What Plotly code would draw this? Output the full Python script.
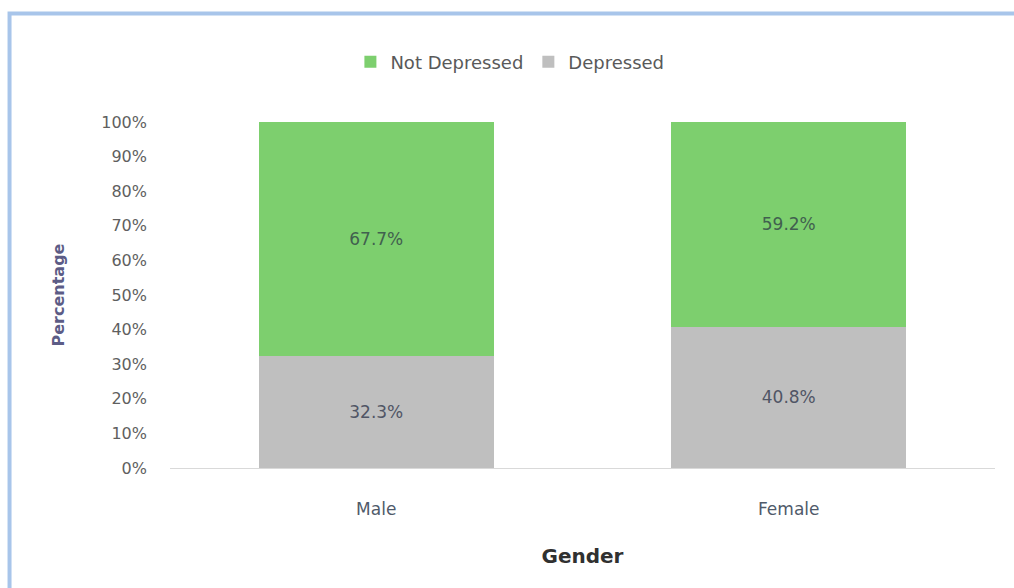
import plotly.graph_objects as go

# Share of respondents by gender and depression status
genders = ["Male", "Female"]
depressed = [32.3, 40.8]
not_depressed = [67.7, 59.2]
y_ticks = [0, 10, 20, 30, 40, 50, 60, 70, 80, 90, 100]

FONT = "'DejaVu Sans', sans-serif"
GREEN = "#7dcf6e"
GRAY = "#bfbfbf"

fig = go.Figure()
fig.add_trace(go.Bar(
    name="Depressed", x=genders, y=[v / 100 for v in depressed],
    marker=dict(color=GRAY, line=dict(width=0)),
    text=[f"{v:.1f}%" for v in depressed], textposition="inside",
    insidetextanchor="middle", textfont=dict(color="#505565", size=17, family=FONT),
))
fig.add_trace(go.Bar(
    name="Not Depressed", x=genders, y=[v / 100 for v in not_depressed],
    marker=dict(color=GREEN, line=dict(width=0)),
    text=[f"{v:.1f}%" for v in not_depressed], textposition="inside",
    insidetextanchor="middle", textfont=dict(color="#41604f", size=17, family=FONT),
))

# Light blue frame around the chart
fig.add_shape(type="rect", xref="paper", yref="paper",
              x0=-0.1945, x1=1.04, y0=-0.4, y1=1.3136,
              line=dict(color="#a8c5ea", width=4), layer="below")

fig.update_layout(
    barmode="stack",
    bargap=0.43,
    width=1014, height=588,
    margin=dict(l=170, r=19, t=122, b=120),
    paper_bgcolor="white", plot_bgcolor="white",
    font=dict(family=FONT, size=16, color="#595959"),
    legend=dict(orientation="h", x=0.412, xanchor="center", y=1.1734, yanchor="middle",
                traceorder="reversed", font=dict(size=18, color="#595959"),
                itemwidth=30),
    xaxis=dict(showline=True, linecolor="#d9d9d9", linewidth=1, ticks="",
               ticklabelstandoff=26,
               tickfont=dict(size=17, color="#4f5a6a"),
               title=dict(text="<b>Gender</b>", font=dict(size=20, color="#303030"), standoff=30)),
    yaxis=dict(range=[0, 1], tickvals=[v / 100 for v in y_ticks],
               ticktext=[f"{v}%" for v in y_ticks], showgrid=False, zeroline=False,
               ticks="", ticklabelstandoff=22,
               tickfont=dict(size=16, color="#5f5f5f"),
               title=dict(text="<b>Percentage</b>", font=dict(size=16, color="#5c5c86"), standoff=32)),
    showlegend=True,
)

fig.write_html("out.html")
